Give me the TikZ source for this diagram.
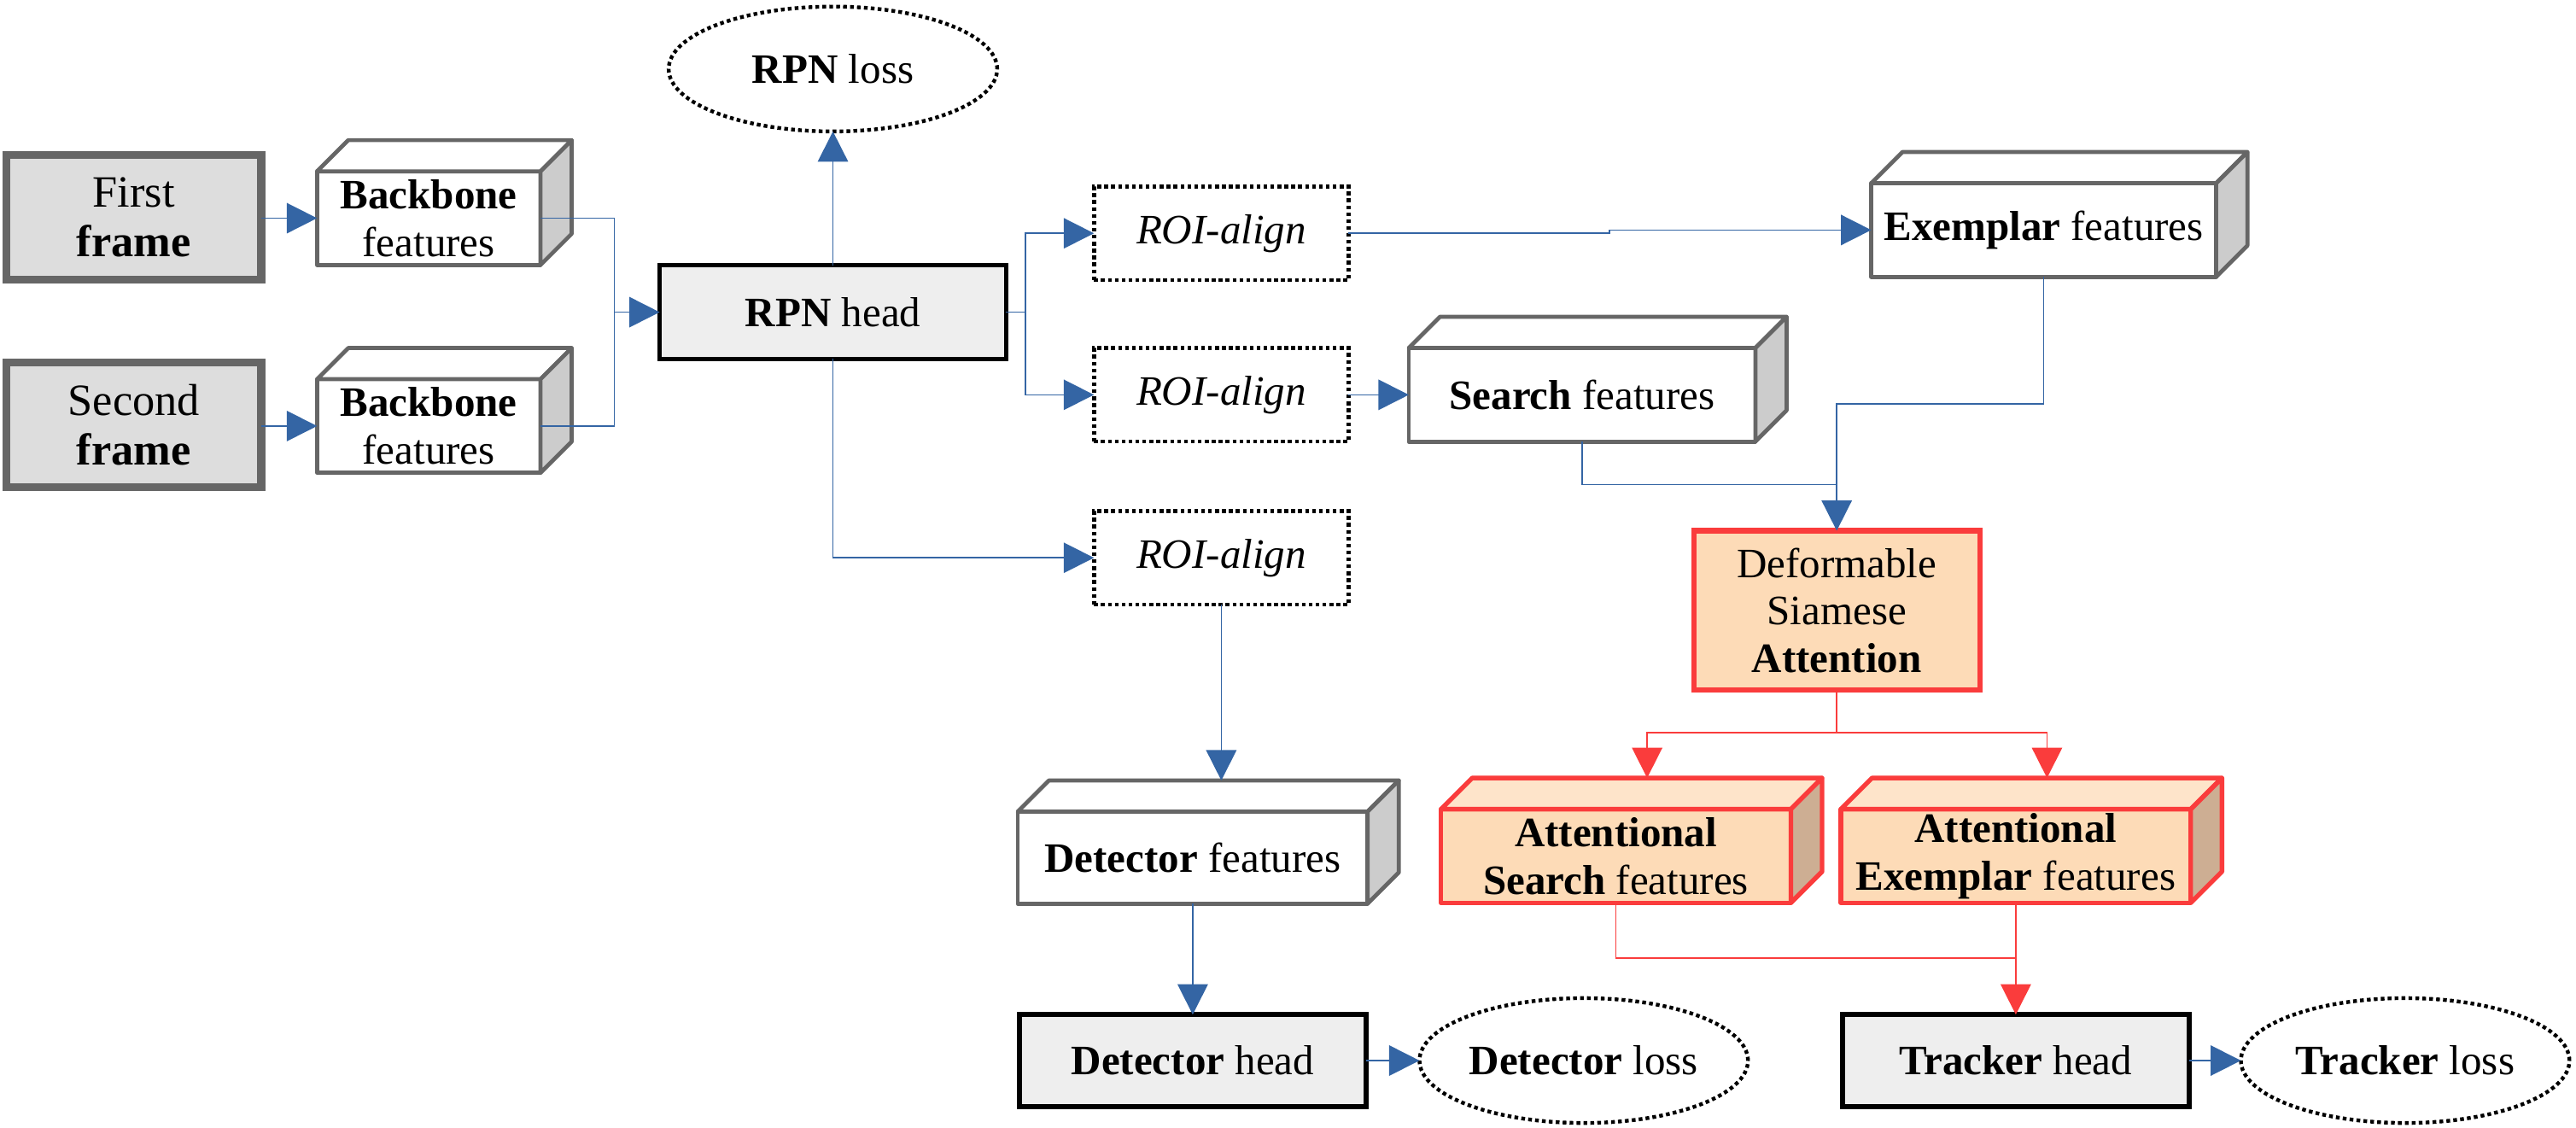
\documentclass[tikz,border=0pt]{standalone}
\usepackage{fontspec}
\setmainfont{Liberation Serif}
\usetikzlibrary{shapes.geometric,arrows.meta}
\definecolor{cblue}{RGB}{52,101,164}
\definecolor{cred}{RGB}{250,60,60}
\definecolor{peach}{RGB}{253,219,183}
\definecolor{peachtop}{RGB}{254,228,202}
\definecolor{peachside}{RGB}{205,174,147}
\definecolor{cgray}{RGB}{102,102,102}
\definecolor{sidegray}{RGB}{204,204,204}
\definecolor{framefill}{RGB}{221,221,221}
\definecolor{headfill}{RGB}{238,238,238}
\newcommand{\mycubefaces}[4]{%
  \filldraw[#2, fill=#3] (#1.north west) -- ([shift={(19,-19)}]#1.north west) -- ([shift={(19,-19)}]#1.north east) -- (#1.north east) -- cycle;
  \filldraw[#2, fill=#4] (#1.north east) -- ([shift={(19,-19)}]#1.north east) -- ([shift={(19,-19)}]#1.south east) -- (#1.south east) -- cycle;
}
\begin{document}
\begin{tikzpicture}[x=0.02cm,y=-0.02cm,
  every node/.style={font=\fontsize{14.5}{16.5}\selectfont, align=center, inner sep=0pt, outer sep=0pt},
  framebox/.style={draw=cgray, fill=framefill, line width=2.8pt, minimum width=3.1cm, minimum height=1.52cm, font=\fontsize{15.5}{17.3}\selectfont},
  cubeline/.style={draw=cgray, line width=1.4pt, line join=round},
  cubebox/.style={cubeline, fill=white, minimum height=1.14cm},
  redline/.style={draw=cred, line width=1.6pt, line join=round},
  redcube/.style={redline, fill=peach, minimum width=4.26cm, minimum height=1.14cm},
  headbox/.style={draw=black, fill=headfill, line width=1.6pt, minimum width=4.22cm, minimum height=1.12cm},
  roibox/.style={draw=black, line width=1.3pt, dash pattern=on 1.3pt off 1.1pt, minimum width=3.1cm, minimum height=1.14cm, font=\fontsize{14.5}{16.5}\selectfont\itshape},
  lossbox/.style={ellipse, draw=black, line width=1.3pt, dash pattern=on 1.3pt off 1.1pt, minimum width=4.0cm, minimum height=1.52cm},
  dsabox/.style={draw=cred, fill=peach, line width=1.8pt, minimum width=3.48cm, minimum height=1.94cm},
  ln/.style={draw=cblue, line width=0.5pt},
  arr/.style={ln, -{Triangle[length=10.5pt,width=10.5pt]}},
  lnR/.style={draw=cred, line width=0.5pt},
  arrR/.style={lnR, -{Triangle[length=10.5pt,width=10.5pt]}}
]
\useasboundingbox (0,0) rectangle (1568,686.55);

% input frames
\node[framebox] (first) at (81.5,132.3) {First\\\textbf{frame}};
\node[framebox] (second) at (81.5,258.6) {Second\\\textbf{frame}};

% backbone cubes
\node[cubebox, minimum width=2.72cm] (bb1) at (261,132.8) {\textbf{Backbone}\\features};
\mycubefaces{bb1}{cubeline}{white}{sidegray}
\node[cubebox, minimum width=2.72cm] (bb2) at (261,259.3) {\textbf{Backbone}\\features};
\mycubefaces{bb2}{cubeline}{white}{sidegray}

% RPN
\node[headbox, minimum height=1.14cm] (rpnhead) at (507,190) {\textbf{RPN} head};
\node[lossbox] (rpnloss) at (507,42) {\textbf{RPN} loss};

% ROI-align
\node[roibox] (roi1) at (743.4,142) {ROI-align};
\node[roibox] (roi2) at (743.4,240.3) {ROI-align};
\node[roibox] (roi3) at (743.4,339.5) {ROI-align};

% exemplar and search features
\node[cubebox, minimum width=4.2cm] (exemplar) at (1244,140) {\textbf{Exemplar} features};
\mycubefaces{exemplar}{cubeline}{white}{sidegray}
\node[cubebox, minimum width=4.22cm] (search) at (963,240.3) {\textbf{Search} features};
\mycubefaces{search}{cubeline}{white}{sidegray}

% deformable siamese attention
\node[dsabox] (dsa) at (1118,371.5) {Deformable\\Siamese\\\textbf{Attention}};

% attentional features
\node[redcube] (attsearch) at (983.6,521) {\textbf{Attentional}\\\textbf{Search} features};
\mycubefaces{attsearch}{redline}{peachtop}{peachside}
\node[redcube] (attexemplar) at (1227,521) {\textbf{Attentional}\\\textbf{Exemplar} features};
\mycubefaces{attexemplar}{redline}{peachtop}{peachside}

% detector branch
\node[cubebox, minimum width=4.26cm, minimum height=1.12cm] (detfeat) at (726,522) {\textbf{Detector} features};
\mycubefaces{detfeat}{cubeline}{white}{sidegray}
\node[headbox] (dethead) at (726,645.5) {\textbf{Detector} head};
\node[lossbox] (detloss) at (964,645.5) {\textbf{Detector} loss};

% tracker branch
\node[headbox] (trackhead) at (1227,645.5) {\textbf{Tracker} head};
\node[lossbox] (trackloss) at (1464,645.5) {\textbf{Tracker} loss};

% helper coordinates
\coordinate (j1) at (374,190);
\coordinate (br) at (624,190);
\coordinate (jog) at (979.6,0);
\coordinate (ey) at (0,246);
\coordinate (sy) at (0,295);
\coordinate (ry) at (0,446);
\coordinate (ty) at (0,583);
\coordinate (dftop) at ([shift={(19,-19)}]detfeat.north);
\coordinate (astop) at ([shift={(19,-19)}]attsearch.north);
\coordinate (aetop) at ([shift={(19,-19)}]attexemplar.north);

% connectors (blue)
\draw[arr] (first.east |- bb1.west) -- (bb1.west);
\draw[arr] (second.east |- bb2.west) -- (bb2.west);
\draw[ln] (bb1.east) -| (j1);
\draw[ln] (bb2.east) -| (j1);
\draw[arr] (j1) -- (rpnhead.west);
\draw[arr] (rpnhead.north) -- (rpnloss.south);
\draw[ln] (rpnhead.east) -- (br);
\draw[arr] (br) |- (roi1.west);
\draw[arr] (br) |- (roi2.west);
\draw[arr] (rpnhead.south) |- (roi3.west);
\draw[arr] (roi1.east) -- (roi1.east -| jog) -- (jog |- exemplar.west) -- (exemplar.west);
\draw[arr] (roi2.east) -- (search.west);
\draw[arr] (roi3.south) -- (roi3.south |- dftop);
\draw[arr] (exemplar.south) -- (exemplar.south |- ey) -- (dsa.north |- ey) -- (dsa.north);
\draw[ln] (search.south) -- (search.south |- sy) -- (dsa.north |- sy);
\draw[arr] (detfeat.south) -- (dethead.north);
\draw[arr] (dethead.east) -- (detloss.west);
\draw[arr] (trackhead.east) -- (trackloss.west);

% connectors (red)
\draw[lnR] (dsa.south) -- (dsa.south |- ry);
\draw[arrR] (dsa.south |- ry) -| (astop);
\draw[arrR] (dsa.south |- ry) -| (aetop);
\draw[lnR] (attsearch.south) -- (attsearch.south |- ty) -- (attexemplar.south |- ty);
\draw[arrR] (attexemplar.south) -- (trackhead.north);
\end{tikzpicture}
\end{document}
